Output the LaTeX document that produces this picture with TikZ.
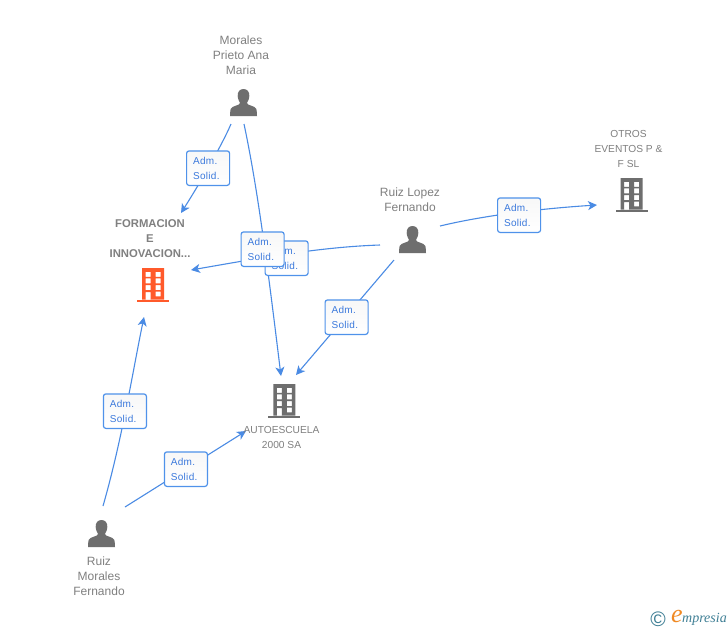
\documentclass[tikz,border=0pt]{standalone}
\usepackage{fontspec}
\setmainfont{Liberation Sans}
\newfontfamily\lblfont[LetterSpace=3]{Liberation Sans}
\newfontfamily\logofont[Ligatures=TeX]{Liberation Serif}
\usetikzlibrary{arrows.meta}
\definecolor{edgeblue}{HTML}{4A8BE4}
\definecolor{boxblue}{HTML}{4F92EA}
\definecolor{textblue}{HTML}{3B79DC}
\definecolor{icongrey}{HTML}{6E6E6E}
\definecolor{namegrey}{HTML}{808080}
\definecolor{firmorange}{HTML}{FF5A2B}
\definecolor{logoteal}{HTML}{3F7F95}
\definecolor{logoorange}{HTML}{F08A24}
\tikzset{
  conn/.style={draw=edgeblue,line width=1.1pt,-{Stealth[length=9pt,width=9pt,inset=2.5pt]}},
  rolebox/.style={draw=boxblue,line width=1.2pt,rounded corners=2.5pt,top color=white!97!black,bottom color=white,
    minimum width=43pt,minimum height=34.5pt,inner sep=0pt,anchor=north west,text=textblue,
    font=\fontsize{10}{15}\selectfont\lblfont,align=left,text width=30pt},
  person/.style={font=\fontsize{12}{15}\selectfont,text=namegrey,align=center,inner sep=0pt},
  firm/.style={font=\fontsize{10.2}{15}\selectfont,text=namegrey,align=center,inner sep=0pt},
  firmmain/.style={font=\fontsize{11.3}{15}\selectfont\bfseries,text=namegrey,align=center,inner sep=0pt},
  personicon/.pic={
    \fill[icongrey] (13.5,0) .. controls (9.5,0) and (7.5,3) .. (7.7,7)
      .. controls (7.9,10.5) and (9.3,12.5) .. (10,14)
      .. controls (10.3,16.5) and (2,16.5) .. (0.6,20)
      .. controls (0.2,22) and (0,25) .. (0,27) -- (27,27)
      .. controls (27,25) and (26.8,22) .. (26.4,20)
      .. controls (25,16.5) and (16.7,16.5) .. (17,14)
      .. controls (17.7,12.5) and (19.1,10.5) .. (19.3,7)
      .. controls (19.5,3) and (17.5,0) .. (13.5,0) -- cycle;
  },
  building/.pic={
    \fill[pic actions,even odd rule]
      (5,0) rectangle (27,31.5)
      (8.5,3.8) rectangle (13.5,8.8)
      (18.5,3.8) rectangle (23.5,8.8)
      (8.5,10.4) rectangle (13.5,15.4)
      (18.5,10.4) rectangle (23.5,15.4)
      (8.5,17) rectangle (13.5,22)
      (18.5,17) rectangle (23.5,22)
      (8.5,24) rectangle (13.5,31.5)
      (18.5,23.6) rectangle (23.5,28.4);
    \fill[pic actions] (0,31.5) rectangle (32,33.7);
  },
}
\begin{document}
\begin{tikzpicture}[x=1pt,y=-1pt]
\useasboundingbox (0,0) rectangle (728,630);
\fill[white] (0,0) rectangle (728,630);

% end points of connectors
\coordinate (mA) at (231,124);
\coordinate (mB) at (244,124);
\coordinate (lA) at (380,245);
\coordinate (lB) at (394,260);
\coordinate (lC) at (440,226);
\coordinate (rA) at (103,506);
\coordinate (rB) at (125,507);
\coordinate (fA) at (181,213);
\coordinate (fB) at (191,270);
\coordinate (fC) at (144,317);
\coordinate (aA) at (281,376);
\coordinate (aB) at (296,375);
\coordinate (aC) at (246,431);
\coordinate (oA) at (597,205);

% connectors
\draw[conn] (mA) .. controls (222,145) and (200,183) .. (fA);
\draw[conn] (mB) .. controls (258,190) and (268,270) .. (aA);
\draw[conn] (lA) .. controls (320,247) and (260,258) .. (fB);
\draw[conn] (lB) -- (aB);
\draw[conn] (lC) .. controls (490,214) and (550,208) .. (oA);
\draw[conn] (rA) .. controls (122,440) and (133,370) .. (fC);
\draw[conn] (rB) -- (aC);

% role labels
\node[rolebox] (b1) at (186,150.3) {Adm.\\Solid.};
\node[rolebox] (b3) at (264.5,240.3) {Adm.\\Solid.};
\node[rolebox] (b2) at (240.5,231.3) {Adm.\\Solid.};
\node[rolebox] (b4) at (497,197.3) {Adm.\\Solid.};
\node[rolebox] (b5) at (324.5,299.3) {Adm.\\Solid.};
\node[rolebox] (b6) at (102.8,393.3) {Adm.\\Solid.};
\node[rolebox] (b7) at (163.8,451.3) {Adm.\\Solid.};

% icons
\pic at (230,89) {personicon};
\pic at (399,226) {personicon};
\pic at (88,520) {personicon};
\pic[fill=firmorange] at (137,268) {building};
\pic[fill=icongrey] at (615.5,178) {building};
\pic[fill=icongrey] at (268.3,384) {building};

% names
\node[person] (nMorales) at (241,55) {Morales\\Prieto Ana\\Maria};
\node[person] (nLopez) at (410,199.5) {Ruiz Lopez\\Fernando};
\node[person] (nRuiz) at (99,576) {Ruiz\\Morales\\Fernando};
\node[firm] (nOtros) at (628.5,149) {OTROS\\EVENTOS P \&\\F SL};
\node[firm] (nAuto) at (281.5,437.5) {AUTOESCUELA\\2000 SA};
\node[firmmain] (nForm) at (150,239) {FORMACION\\E\\INNOVACION...};

% logo
\node[inner sep=0pt,text=logoteal,font=\fontsize{21}{21}\selectfont] (lc) at (658,619) {©};
\node[inner sep=0pt,text=logoorange,font=\fontsize{26}{26}\selectfont\logofont\itshape] (le) at (677,616) {e};
\node[inner sep=0pt,anchor=west,text=logoteal,font=\fontsize{14}{14}\selectfont\logofont\itshape] (lm) at (682,619.5) {mpresia};
\end{tikzpicture}
\end{document}
